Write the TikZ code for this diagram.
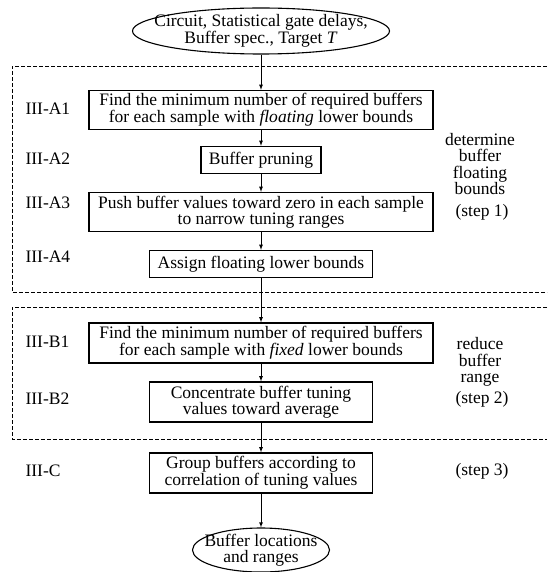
\documentclass[tikz,border=0pt]{standalone}
\usepackage{fontspec}
\setmainfont{Liberation Serif}
\usetikzlibrary{arrows,chains,positioning,scopes,shapes.geometric}
\tikzset{>=latex,every on chain/.append style={join},
         every join/.style={->,line width=0.8pt}}
\tikzset{stepbox/.style={draw,line width=1.3pt,align=center,inner sep=0pt,
           font=\fontsize{17.5}{16}\selectfont},
         io/.style={draw,ellipse,line width=1.1pt,align=center,
           inner xsep=-20pt,inner ysep=-6pt,
           font=\fontsize{17.5}{16.5}\selectfont},
         tag/.style={font=\fontsize{17.5}{16}\selectfont,anchor=west},
         side/.style={align=center,font=\fontsize{17.5}{16.5}\selectfont},
         region/.style={dashed,line width=0.8pt,dash pattern=on 4pt off 2pt}}

\begin{document}
\begin{tikzpicture}[x=1pt,y=-1pt]
	  \useasboundingbox (0,0) rectangle (547,572);
	  % inputs
	  \node[io,minimum width=257,minimum height=46] (in) at (261,31)
	    {Circuit, Statistical gate delays,\\Buffer spec., Target \textit{T}};
	  % step 1
	  \node[stepbox,minimum width=344,minimum height=39] (a1) at (261,110)
	    {Find the minimum number of required buffers\\for each sample with \textit{floating} lower bounds};
	  \node[stepbox,minimum width=120,minimum height=27] (a2) at (261,160)
	    {Buffer pruning};
	  \node[stepbox,minimum width=344,minimum height=39] (a3) at (261,212)
	    {Push buffer values toward zero in each sample\\to narrow tuning ranges};
	  \node[stepbox,minimum width=223,minimum height=27] (a4) at (261,264)
	    {Assign floating lower bounds};
	  % step 2
	  \node[stepbox,minimum width=344,minimum height=40] (b1) at (261,343)
	    {Find the minimum number of required buffers\\for each sample with \textit{fixed} lower bounds};
	  \node[stepbox,minimum width=223,minimum height=40] (b2) at (261,402)
	    {Concentrate buffer tuning\\values toward average};
	  % step 3
	  \node[stepbox,minimum width=223,minimum height=40] (c) at (261,473)
	    {Group buffers according to\\correlation of tuning values};
	  \node[io,minimum width=137,minimum height=44] (out) at (261,550)
	    {Buffer locations\\and ranges};
	  % section tags
	  \node[tag] (ta1) at (22,109) {III-A1};
	  \node[tag] (ta2) at (22,159) {III-A2};
	  \node[tag] (ta3) at (22,203) {III-A3};
	  \node[tag] (ta4) at (22,257) {III-A4};
	  \node[tag] (tb1) at (22,342) {III-B1};
	  \node[tag] (tb2) at (22,399) {III-B2};
	  \node[tag] (tc) at (22,471) {III-C};
	  % step notes
	  \node[side] (s1) at (480,164) {determine\\buffer\\floating\\bounds};
	  \node[side] (n1) at (482,212) {(step 1)};
	  \node[side] (s2) at (480,362) {reduce\\buffer\\range};
	  \node[side] (n2) at (482,399) {(step 2)};
	  \node[side] (n3) at (482,471) {(step 3)};
	  % dashed regions
	  \draw[region] (547,66) -- (12,66) -- (12,292) -- (547,292);
	  \draw[region] (547,307) -- (12,307) -- (12,439) -- (547,439);
	  % flow
	  { [start chain] \chainin (in);
	    \chainin (a1); \chainin (a2); \chainin (a3); \chainin (a4);
	    \chainin (b1); \chainin (b2); \chainin (c); \chainin (out); }
	\end{tikzpicture}
\end{document}
